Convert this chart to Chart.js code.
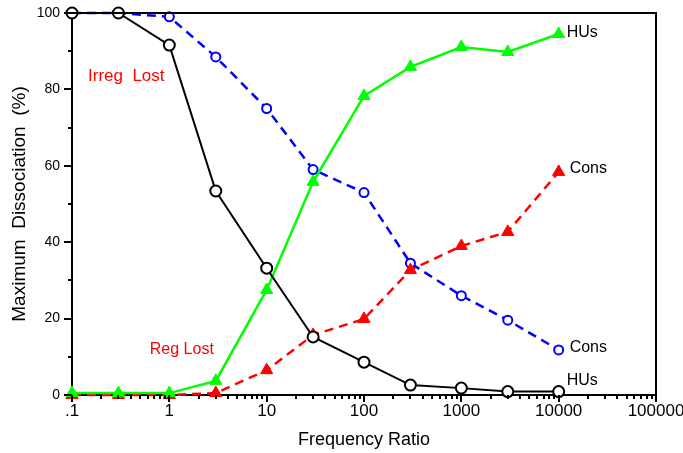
<!DOCTYPE html>
<html>
<head>
<meta charset="utf-8">
<script src="https://cdn.jsdelivr.net/npm/chart.js@4.4.1/dist/chart.umd.min.js"></script>
<style>
  html, body { margin: 0; padding: 0; background: #fff; }
  #wrap { width: 683px; height: 453px; }
</style>
</head>
<body>
<div id="wrap"><canvas id="chart" width="683" height="453"></canvas></div>
<script>
// frequency ratios (x) and the four measured series (% max dissociation)
const freqs = [0.1, 0.3, 1, 3, 10, 30, 100, 300, 1000, 3000, 10000];
const husIrreg = [100, 100, 91.6, 53.4, 33.2, 15.2, 8.6, 2.6, 1.8, 0.9, 0.9];
const consIrreg = [100, 100, 99, 88.5, 75, 59, 53, 34.5, 26, 19.6, 11.8];
const husReg = [0.5, 0.5, 0.5, 3.7, 27.5, 55.8, 78.3, 85.9, 91.1, 89.8, 94.5];
const consReg = [0, 0, 0, 0.5, 6.5, 15.7, 19.9, 32.7, 39, 42.7, 58.4];

// axis ticks
const xTickValues = [0.1, 1, 10, 100, 1000, 10000, 100000];
const xTickLabels = ['.1', '1', '10', '100', '1000', '10000', '100000'];
const yTickValues = [0, 20, 40, 60, 80, 100];

const FONT = 'Liberation Sans, Arial, Helvetica, sans-serif';

function pts(ys) {
  return freqs.map((f, i) => ({ x: f, y: ys[i] }));
}

// text labels placed next to the curves
const notes = [
  { text: 'HUs', x: 10000, y: 94.5, dx: 8, dy: -1, size: 16, color: '#000' },
  { text: 'Cons', x: 10000, y: 58.4, dx: 11, dy: -3, size: 16, color: '#000' },
  { text: 'Cons', x: 10000, y: 11.8, dx: 11, dy: -2, size: 16, color: '#000' },
  { text: 'HUs', x: 10000, y: 0.9, dx: 8, dy: -11, size: 16, color: '#000' },
  { text: 'Irreg  Lost', x: 0.146, y: 83.5, dx: 0, dy: 0, size: 17, color: '#ff0000' },
  { text: 'Reg Lost', x: 0.63, y: 11.8, dx: 0, dy: 0, size: 16, color: '#ff0000' }
];

function noPad(s) {
  s.paddingLeft = 0;
  s.paddingRight = 0;
  s.paddingTop = 0;
  s.paddingBottom = 0;
}

// frame, tick marks and curve labels
const decorPlugin = {
  id: 'decor',
  afterDraw(chart) {
    const ctx = chart.ctx;
    const a = chart.chartArea;
    const xs = chart.scales.x;
    const ys = chart.scales.y;
    ctx.save();
    ctx.strokeStyle = '#000';
    ctx.lineWidth = 2;
    ctx.beginPath();
    ctx.moveTo(a.left, a.top);
    ctx.lineTo(a.right, a.top);
    ctx.lineTo(a.right, a.bottom);
    ctx.stroke();

    // x ticks, major at decades, minor 2..9
    ctx.beginPath();
    for (let k = -1; k <= 5; k++) {
      for (let m = 1; m <= 9; m++) {
        const v = m * Math.pow(10, k);
        if (v > 100000) break;
        const px = Math.round(xs.getPixelForValue(v));
        const len = m === 1 ? 7 : 4;
        ctx.moveTo(px, a.bottom);
        ctx.lineTo(px, a.bottom + len);
      }
    }
    // y ticks
    for (let v = 0; v <= 100; v += 10) {
      const py = Math.round(ys.getPixelForValue(v));
      const len = v % 20 === 0 ? 8 : 4;
      ctx.moveTo(a.left, py);
      ctx.lineTo(a.left - len, py);
    }
    ctx.stroke();

    ctx.textBaseline = 'middle';
    ctx.textAlign = 'left';
    notes.forEach(n => {
      ctx.font = n.size + 'px ' + FONT;
      ctx.fillStyle = n.color;
      ctx.fillText(n.text, xs.getPixelForValue(n.x) + n.dx, ys.getPixelForValue(n.y) + n.dy);
    });
    ctx.restore();
  }
};

const ctx = document.getElementById('chart').getContext('2d');
new Chart(ctx, {
  type: 'line',
  data: {
    datasets: [
      {
        label: 'HUs irreg',
        data: pts(husIrreg),
        borderColor: '#000',
        borderWidth: 2,
        pointStyle: 'circle',
        pointRadius: 5.5,
        pointBorderWidth: 2,
        pointBackgroundColor: '#fff',
        pointBorderColor: '#000',
        clip: false
      },
      {
        label: 'HUs reg',
        data: pts(husReg),
        borderColor: '#00ff00',
        borderWidth: 2.5,
        pointStyle: 'triangle',
        pointRadius: 7,
        pointBorderWidth: 1,
        pointBackgroundColor: '#00ff00',
        pointBorderColor: '#00ff00',
        clip: false
      },
      {
        label: 'Cons reg',
        data: pts(consReg),
        borderColor: '#ff0000',
        borderWidth: 2.5,
        borderDash: [9, 6],
        pointStyle: 'triangle',
        pointRadius: 7,
        pointBorderWidth: 1,
        pointBackgroundColor: '#ff0000',
        pointBorderColor: '#ff0000',
        clip: false
      },
      {
        label: 'Cons irreg',
        data: pts(consIrreg),
        borderColor: '#0000ff',
        borderWidth: 2.5,
        borderDash: [9, 6],
        pointStyle: 'circle',
        pointRadius: 4.5,
        pointBorderWidth: 2,
        pointBackgroundColor: '#fff',
        pointBorderColor: '#0000ff',
        clip: false
      }
    ]
  },
  options: {
    responsive: false,
    animation: false,
    layout: { padding: { top: 13, right: 27, left: 0, bottom: 0 } },
    plugins: {
      legend: { display: false },
      tooltip: { enabled: false }
    },
    elements: { line: { tension: 0 } },
    scales: {
      x: {
        type: 'logarithmic',
        min: 0.1,
        max: 100000,
        afterFit(s) { s.height = 58; noPad(s); },
        afterBuildTicks(s) { s.ticks = xTickValues.map(v => ({ value: v })); },
        grid: { display: true, drawOnChartArea: false, drawTicks: false },
        border: { color: '#000', width: 2 },
        ticks: {
          autoSkip: false,
          maxRotation: 0,
          padding: 6,
          color: '#000',
          font: { family: FONT, size: 17 },
          callback(v) {
            const i = xTickValues.indexOf(v);
            return i >= 0 ? xTickLabels[i] : '';
          }
        },
        title: {
          display: true,
          text: 'Frequency Ratio',
          color: '#000',
          font: { family: FONT, size: 18 },
          padding: { top: 0, bottom: 2 }
        }
      },
      y: {
        min: 0,
        max: 100,
        afterFit(s) { s.width = 72; noPad(s); },
        afterBuildTicks(s) { s.ticks = yTickValues.map(v => ({ value: v })); },
        grid: { display: true, drawOnChartArea: false, drawTicks: false },
        border: { color: '#000', width: 2 },
        ticks: {
          padding: 12,
          color: '#000',
          font: { family: FONT, size: 14 }
        },
        title: {
          display: true,
          text: 'Maximum  Dissociation  (%)',
          color: '#000',
          font: { family: FONT, size: 19 },
          padding: { top: 8, bottom: 0 }
        }
      }
    }
  },
  plugins: [decorPlugin]
});
</script>
</body>
</html>
